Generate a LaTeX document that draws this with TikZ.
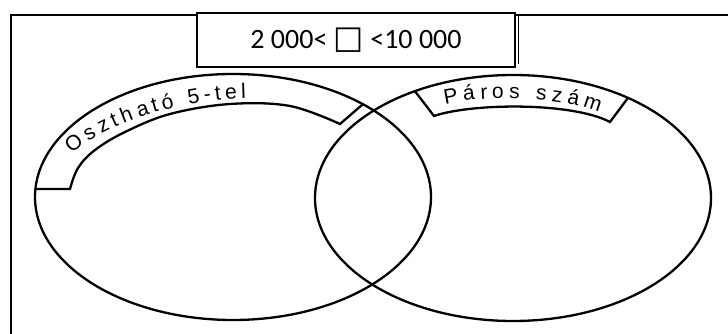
\documentclass[tikz,border=0pt]{standalone}
\usepackage{fontspec}
\setmainfont{Liberation Sans}
\newfontfamily\calibfont{Carlito}
\newfontfamily\symfont{DejaVu Sans}
\newfontfamily\bandfam{Liberation Sans}
\newcommand\bandletter[1]{{\bandfam\fontsize{21}{25}\selectfont #1}}
\usetikzlibrary{calc}
\begin{document}
\begin{tikzpicture}[x=1pt,y=-1pt,
  setline/.style={line width=2.3pt},
  bandline/.style={line width=2.3pt, line join=miter},
  framel/.style={line width=2pt},
  lt/.style={sloped, anchor=base, inner sep=0pt}
  ]
\useasboundingbox (0,0) rectangle (728,334);
\fill[white] (0,0) rectangle (728,334);
\draw[framel] (11,334) -- (11,15) -- (728,15);
\coordinate (A) at (233,197);
\coordinate (B) at (513,198);
\draw[setline] (A) ellipse [x radius=198, y radius=123];
\draw[setline] (B) ellipse [x radius=198, y radius=123];
% left band
\coordinate (L1) at ($(A)+(183.7:198 and 123)$);
\coordinate (L2) at ($(A)+(-49:198 and 123)$);
\draw[bandline] (L1) -- plot[smooth, tension=0.6] coordinates {(70,189) (78,168) (95,150) (125,132) (170,114) (230,104) (290,106) (340,124)} -- (L2);
% right band
\coordinate (R1) at ($(B)+(240.3:198 and 123)$);
\coordinate (R2) at ($(B)+(305.5:198 and 123)$);
\draw[bandline] (R1) -- (434,116) .. controls (472,103) and (572,102) .. (610,122) -- (R2);
% labels along the bands (letter by letter)
\path (72,153) .. controls (105,125) and (175,100) .. (246,98)
  node[lt, pos=.056] (l1) {\bandletter{O}}
  node[lt, pos=.176] (l2) {\bandletter{s}}
  node[lt, pos=.270] (l3) {\bandletter{z}}
  node[lt, pos=.339] (l4) {\bandletter{t}}
  node[lt, pos=.410] (l5) {\bandletter{h}}
  node[lt, pos=.499] (l6) {\bandletter{a}}
  node[lt, pos=.563] (l7) {\bandletter{t}}
  node[lt, pos=.628] (l8) {\bandletter{ó}}
  node[lt, pos=.756] (l9) {\bandletter{5}}
  node[lt, pos=.820] (l10) {\bandletter{-}}
  node[lt, pos=.870] (l11) {\bandletter{t}}
  node[lt, pos=.931] (l12) {\bandletter{e}}
  node[lt, pos=.989] (l13) {\bandletter{l}};
\path (446,104) .. controls (480,96) and (560,96) .. (598,112)
  node[lt, pos=.054] (r1) {\bandletter{P}}
  node[lt, pos=.187] (r2) {\bandletter{á}}
  node[lt, pos=.285] (r3) {\bandletter{r}}
  node[lt, pos=.369] (r4) {\bandletter{o}}
  node[lt, pos=.464] (r5) {\bandletter{s}}
  node[lt, pos=.618] (r6) {\bandletter{s}}
  node[lt, pos=.709] (r7) {\bandletter{z}}
  node[lt, pos=.809] (r8) {\bandletter{á}}
  node[lt, pos=.941] (r9) {\bandletter{m}};
% title
\node[draw, line width=1.3pt, fill=white, minimum width=318pt, minimum height=54pt, inner sep=0pt] (title) at (356,40)
  {\calibfont\fontsize{28}{34}\selectfont 2 000< {\symfont\fontsize{32}{34}\selectfont □} <10 000};
\draw[line width=1pt] ([xshift=3pt,yshift=-2pt]title.north east) -- ([xshift=3pt,yshift=4pt]title.south east);
\end{tikzpicture}
\end{document}
